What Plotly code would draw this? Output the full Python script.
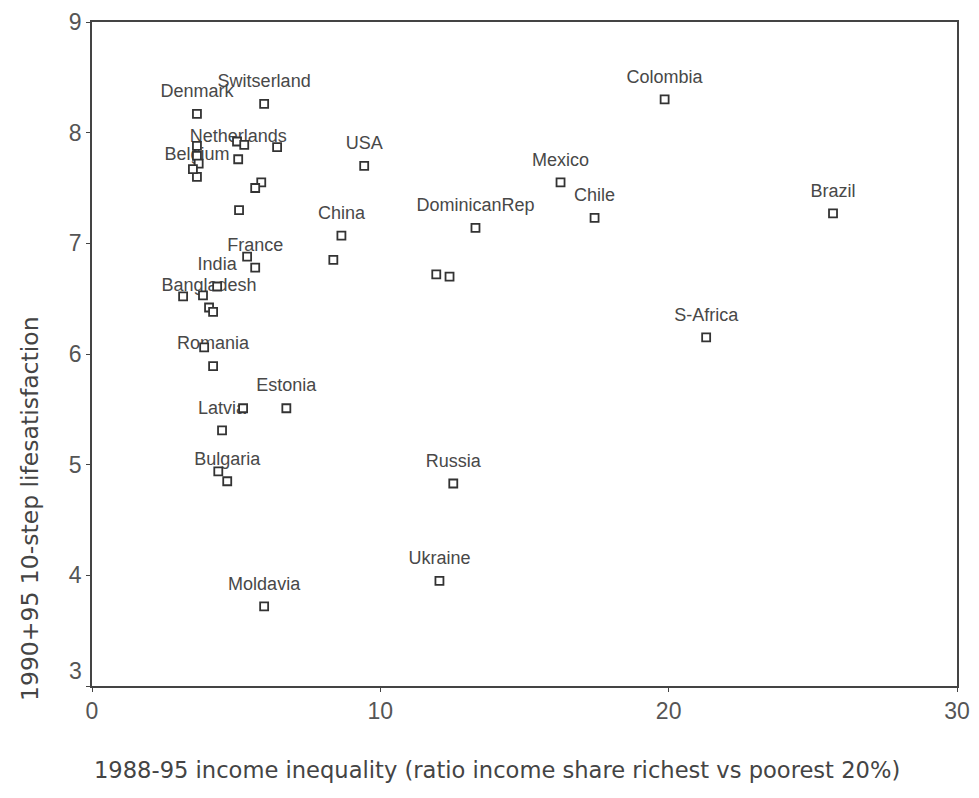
import plotly.graph_objects as go

# Data
countries = [
    "Switserland", "Denmark", "", "", "Netherlands", "", "", "", "Belgium", "",
    "", "", "", "", "", "France",
    "", "", "India", "Bangladesh", "",
    "", "Romania", "Estonia", "", "Latvia", "", "Bulgaria", "Moldavia",
    "USA", "China", "", "DominicanRep", "", "", "Russia", "Ukraine",
    "Mexico", "Chile", "Colombia", "S-Africa", "Brazil",
]
inequality = [
    5.97, 3.64, 5.03, 5.28, 5.07, 6.42, 3.64, 3.64, 3.64, 3.70,
    3.50, 5.87, 5.66, 5.10, 5.38, 5.66,
    3.16, 3.85, 4.34, 4.06, 4.20,
    3.89, 4.20, 6.74, 5.24, 4.51, 4.38, 4.69, 5.97,
    9.44, 8.65, 8.37, 13.30, 11.94, 12.40, 12.53, 12.05,
    16.25, 17.43, 19.86, 21.30, 25.70,
]
satisfaction = [
    8.26, 8.17, 7.92, 7.89, 7.76, 7.87, 7.88, 7.79, 7.60, 7.72,
    7.67, 7.55, 7.50, 7.30, 6.88, 6.78,
    6.52, 6.53, 6.61, 6.42, 6.38,
    6.06, 5.89, 5.51, 5.51, 5.31, 4.94, 4.85, 3.72,
    7.70, 7.07, 6.85, 7.14, 6.72, 6.70, 4.83, 3.95,
    7.55, 7.23, 8.30, 6.15, 7.27,
]
x_ticks = [0, 10, 20, 30]
y_ticks = [3, 4, 5, 6, 7, 8, 9]
x_title = "1988-95 income inequality (ratio income share richest vs poorest 20%)"
y_title = "1990+95 10-step lifesatisfaction"

FONT = "Liberation Sans, Arial, sans-serif"
TFONT = "DejaVu Sans, Liberation Sans, sans-serif"

fig = go.Figure()
# labels first so the white-filled markers sit on top of them
fig.add_trace(go.Scatter(
    x=inequality, y=satisfaction, mode="markers+text", text=countries,
    textposition="top center",
    marker=dict(size=18, opacity=0),
    textfont=dict(family=FONT, size=18, color="#484848"),
    hoverinfo="skip", showlegend=False,
))
fig.add_trace(go.Scatter(
    x=inequality, y=satisfaction, mode="markers",
    marker=dict(symbol="square", size=8, color="white",
                line=dict(color="#333333", width=1.8)),
    showlegend=False,
))

fig.update_xaxes(
    range=[0, 30], tickvals=x_ticks, ticktext=[str(v) for v in x_ticks],
    showgrid=False, zeroline=False, showline=True, linecolor="#444444",
    linewidth=1.5, mirror=True, ticks="outside", ticklen=4, tickcolor="#444444",
    tickfont=dict(family=FONT, size=23, color="#555555"), automargin=False,
)
fig.update_yaxes(
    range=[3, 9], tickvals=y_ticks,
    ticktext=["" if v == 3 else str(v) for v in y_ticks],
    showgrid=False, zeroline=False, showline=True, linecolor="#444444",
    linewidth=1.5, mirror=True, ticks="outside", ticklen=4, tickcolor="#444444",
    tickfont=dict(family=FONT, size=23, color="#555555"), automargin=False,
)

fig.add_annotation(x=0, y=3, xref="paper", yref="y", text="3",
                   showarrow=False, xanchor="right", xshift=-8, yshift=15,
                   font=dict(family=FONT, size=23, color="#555555"))
fig.add_annotation(x=0.468, y=-0.1265, xref="paper", yref="paper", text=x_title,
                   showarrow=False, xanchor="center", yanchor="middle",
                   font=dict(family=TFONT, size=22.6, color="#444444"))
fig.add_annotation(x=-0.0717, y=0.268, xref="paper", yref="paper", text=y_title,
                   showarrow=False, xanchor="center", yanchor="middle", textangle=-90,
                   font=dict(family=TFONT, size=23.5, color="#444444"))

fig.update_layout(
    width=963, height=782,
    margin=dict(l=84, r=14, t=14, b=104, autoexpand=False),
    plot_bgcolor="white", paper_bgcolor="white",
)

fig.write_html("out.html")
